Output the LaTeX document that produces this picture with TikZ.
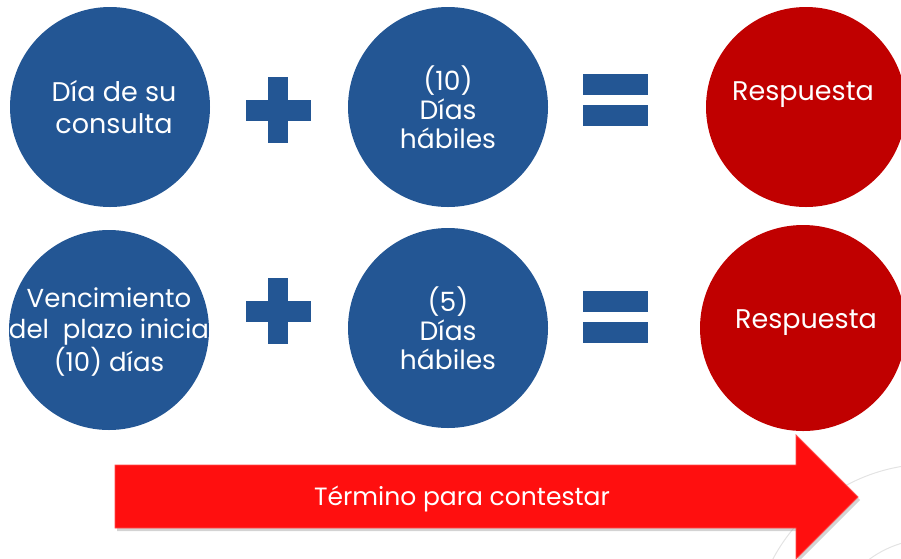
\documentclass[tikz,border=0pt]{standalone}
\usepackage{fontspec}
\setmainfont{Poppins}
\usetikzlibrary{shadows}
\definecolor{azul}{RGB}{35,86,148}
\definecolor{rojo}{RGB}{192,0,0}
\definecolor{flecha}{RGB}{255,15,15}
\tikzset{
  disco/.style={circle,minimum size=200pt,inner sep=0pt},
  texto/.style={text=white,align=center,font=\fontsize{27}{32}\selectfont},
  chico/.style={text=white,align=center,font=\fontsize{26.5}{29}\selectfont},
}
\begin{document}
\begin{tikzpicture}[x=1pt,y=-1pt]
\useasboundingbox (0,0) rectangle (901,558);
\begin{scope}
\clip (0,0) rectangle (901,558);
% lineas de fondo
\draw[gray!22,line width=1pt] (931,643) circle[radius=179pt];
\draw[gray!22,line width=1pt] (931,643) circle[radius=104pt];

% circulos
\node[disco,fill=azul] (consulta) at (110,107) {};
\node[disco,fill=azul] (diez) at (448,107) {};
\node[disco,fill=rojo] (resp1) at (806,107) {};
\node[disco,fill=azul] (venc) at (109,330) {};
\node[disco,fill=azul] (cinco) at (448,328) {};
\node[disco,fill=rojo,minimum size=206pt] (resp2) at (803,328) {};
\end{scope}

% textos
\node[texto] (t1) at (114,107) {D\'ia de su\\consulta};
\node[chico] (t2) at (diez) {(10)\\D\'ias\\h\'abiles};
\node[texto,anchor=base] (r1) at (803,100) {Respuesta};
\node[texto,font=\fontsize{26}{31}\selectfont] (t3) at (109,332) {Vencimiento\\del\ \ plazo inicia\\(10)\ d\'ias};
\node[chico] (t4) at (cinco) {(5)\\D\'ias\\h\'abiles};
\node[texto,anchor=base] (r2) at (806,328) {Respuesta};

% signos
\foreach \y in {110,311}{
  \fill[azul] (246,\y-10.5) rectangle (311,\y+10.5);
  \fill[azul] (268,\y-33) rectangle (288,\y+33);
}
\foreach \y in {74,105,291,322}
  \fill[azul] (583,\y) rectangle (648,\y+21);

% flecha
\filldraw[fill=flecha,draw=red!70!white,line width=0.8pt,
  drop shadow={shadow xshift=2pt,shadow yshift=-3pt,opacity=.35}]
  (115,465) -- (796,465) -- (796,435) -- (858,497) -- (796,559)
  -- (796,528) -- (115,528) -- cycle;
\node[text=white,anchor=base,font=\fontsize{25}{30}\selectfont] (plazo) at (462,505) {T\'ermino para contestar};
\end{tikzpicture}
\end{document}
